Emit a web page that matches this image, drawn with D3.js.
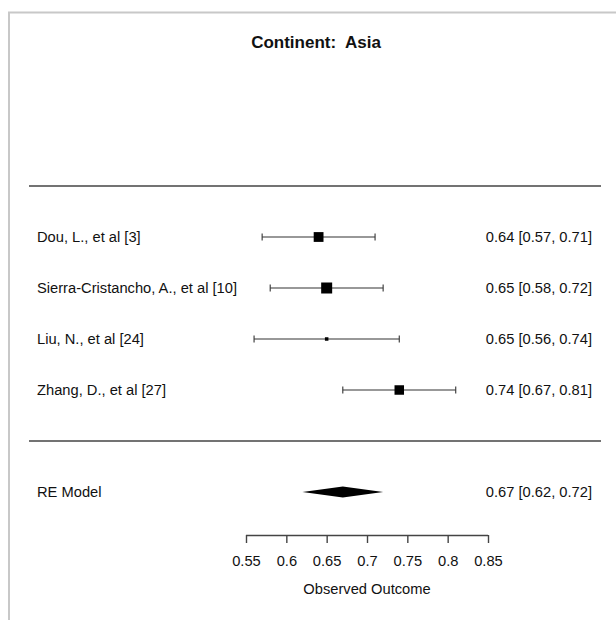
<!DOCTYPE html>
<html>
<head>
<meta charset="utf-8">
<script src="https://d3js.org/d3.v7.min.js"></script>
<style>
  body { margin: 0; background: #fff; }
  text { font-family: "Liberation Sans", Arial, sans-serif; fill: #111; }
</style>
</head>
<body>
<div id="chart"></div>
<script>
// study data
var studies = ["Dou, L., et al [3]", "Sierra-Cristancho, A., et al [10]", "Liu, N., et al [24]", "Zhang, D., et al [27]"];
var est = [0.64, 0.65, 0.65, 0.74];
var lower = [0.57, 0.58, 0.56, 0.67];
var upper = [0.71, 0.72, 0.74, 0.81];
var weights = [30, 34, 9, 29];

// pooled estimate
var reLabel = "RE Model";
var reEst = 0.67, reLow = 0.62, reHigh = 0.72;

var ticks = [0.55, 0.6, 0.65, 0.7, 0.75, 0.8, 0.85];

var width = 616, height = 620;
var fs = "14.7px";

var svg = d3.select("#chart").append("svg")
  .attr("width", width)
  .attr("height", height);

// frame border
svg.append("path")
  .attr("d", "M9,620 V12.5 H616")
  .attr("fill", "none")
  .attr("stroke", "#c8c8c8")
  .attr("stroke-width", 2);

svg.append("text")
  .attr("x", 316).attr("y", 48)
  .attr("text-anchor", "middle")
  .style("font-size", "17px")
  .style("font-weight", "bold")
  .style("white-space", "pre")
  .text("Continent:  Asia");

var x = d3.scaleLinear().domain([0.55, 0.85]).range([246, 488]);
var y = d3.scalePoint().domain(studies).range([237, 390]);
var size = d3.scaleLinear().domain([d3.min(weights), d3.max(weights)]).range([3.5, 11]);

// separator lines
[186, 441].forEach(function(yy) {
  svg.append("line")
    .attr("x1", 29).attr("x2", 601)
    .attr("y1", yy).attr("y2", yy)
    .attr("stroke", "#444").attr("stroke-width", 1.4);
});

var rows = studies.map(function(s, i) {
  return { name: s, est: est[i], lo: lower[i], hi: upper[i], w: weights[i] };
});

var g = svg.selectAll("g.row").data(rows).enter().append("g").attr("class", "row");

g.append("line")
  .attr("x1", function(d) { return x(d.lo); })
  .attr("x2", function(d) { return x(d.hi); })
  .attr("y1", function(d) { return y(d.name); })
  .attr("y2", function(d) { return y(d.name); })
  .attr("stroke", "#333").attr("stroke-width", 1.1);

// whisker end caps
["lo", "hi"].forEach(function(k) {
  g.append("line")
    .attr("x1", function(d) { return x(d[k]); })
    .attr("x2", function(d) { return x(d[k]); })
    .attr("y1", function(d) { return y(d.name) - 3.5; })
    .attr("y2", function(d) { return y(d.name) + 3.5; })
    .attr("stroke", "#333").attr("stroke-width", 1.1);
});

g.append("rect")
  .attr("x", function(d) { return x(d.est) - size(d.w) / 2; })
  .attr("y", function(d) { return y(d.name) - size(d.w) / 2; })
  .attr("width", function(d) { return size(d.w); })
  .attr("height", function(d) { return size(d.w); })
  .attr("fill", "#000");

g.append("text")
  .attr("x", 37)
  .attr("y", function(d) { return y(d.name); })
  .attr("dy", "0.35em")
  .style("font-size", fs)
  .text(function(d) { return d.name; });

var f = d3.format(".2f");
g.append("text")
  .attr("x", 592)
  .attr("y", function(d) { return y(d.name); })
  .attr("dy", "0.35em")
  .attr("text-anchor", "end")
  .style("font-size", fs)
  .text(function(d) { return f(d.est) + " [" + f(d.lo) + ", " + f(d.hi) + "]"; });

// RE model diamond
var yRE = 492;
svg.append("polygon")
  .attr("points", [[x(reLow), yRE], [x(reEst), yRE - 5.5], [x(reHigh), yRE], [x(reEst), yRE + 5.5]].join(" "))
  .attr("fill", "#000");

svg.append("text")
  .attr("x", 37).attr("y", yRE).attr("dy", "0.35em")
  .style("font-size", fs)
  .text(reLabel);

svg.append("text")
  .attr("x", 592).attr("y", yRE).attr("dy", "0.35em")
  .attr("text-anchor", "end")
  .style("font-size", fs)
  .text(f(reEst) + " [" + f(reLow) + ", " + f(reHigh) + "]");

// x axis
var axis = svg.append("g")
  .attr("transform", "translate(0,535)")
  .call(d3.axisBottom(x).tickValues(ticks).tickSize(8).tickPadding(13).tickFormat(d3.format("")));
axis.select(".domain").attr("stroke", "#444").attr("stroke-width", 1.4).attr("d", "M246,0.5H488");
axis.selectAll(".tick line").attr("stroke", "#444").attr("stroke-width", 1.4);
axis.selectAll(".tick text")
  .style("font-family", '"Liberation Sans", Arial, sans-serif')
  .style("font-size", fs)
  .attr("fill", "#111");

svg.append("text")
  .attr("x", 367).attr("y", 594)
  .attr("text-anchor", "middle")
  .style("font-size", fs)
  .text("Observed Outcome");
</script>
</body>
</html>
